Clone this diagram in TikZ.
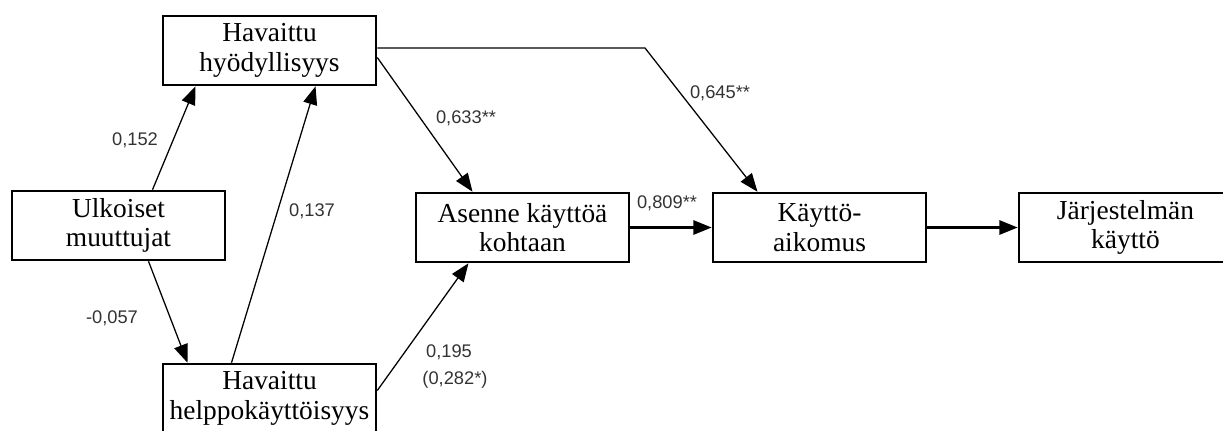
\documentclass[tikz,border=0pt]{standalone}
\usepackage{fontspec}
\setmainfont{Liberation Serif}
\newfontfamily\labelfont{Liberation Sans}
\usetikzlibrary{arrows.meta,calc}

\begin{document}
\begin{tikzpicture}[
  x=0.025cm, y=-0.025cm,
  every node/.style={font=\fontsize{19.5}{21}\selectfont},
  model box/.style={draw,line width=1.8pt,minimum width=5.325cm,minimum height=1.725cm,inner sep=0pt,align=center},
  path arrow/.style={draw,line width=0.9pt,-{Triangle[length=13pt,width=10pt]}},
  coef/.style={font=\labelfont\fontsize{13}{14}\selectfont,text=black!80,inner sep=0pt}
]
  \useasboundingbox (0,0) rectangle (1223,430);

  \node[model box] (hyod) at (269.5,50.5)  {Havaittu\\hyödyllisyys};
  \node[model box] (ulk)  at (118.5,225.5) {Ulkoiset\\muuttujat};
  \node[model box] (help) at (269.5,398.5) {Havaittu\\helppokäyttöisyys};
  \node[model box] (asen) at (522.5,227.5) {Asenne käyttöä\\kohtaan};
  \node[model box] (kayt) at (819.5,227.5) {Käyttö-\\aikomus};
  \node[model box] (jarj) at (1125.5,227.5) {Järjestelmän\\käyttö};

  \coordinate (bend) at (645,48);

  \draw[path arrow] ($(ulk.north)+(34,0)$) -- ($(hyod.south)+(-74,0)$);
  \draw[path arrow] ($(ulk.south)+(30,0)$) -- ($(help.north)+(-82,0)$);
  \draw[path arrow] ($(help.north)+(-38,0)$) -- ($(hyod.south)+(46,0)$);
  \draw[path arrow] ($(hyod.east)+(0,7)$) -- ($(asen.north)+(-50,0)$);
  \draw[path arrow] ($(hyod.east)+(0,-2.5)$) -- (bend) -- ($(kayt.north)+(-62,0)$);
  \draw[path arrow] ($(help.east)+(0,-8)$) -- ($(asen.south)+(-54,0)$);
  \draw[path arrow,line width=1.8pt] (asen.east) -- (kayt.west);
  \draw[path arrow,line width=1.8pt] (kayt.east) -- (jarj.west);

  \node[coef] (c152) at (135,140) {0,152};
  \node[coef] (c057) at (112,318) {-0,057};
  \node[coef] (c137) at (312,211) {0,137};
  \node[coef] (c633) at (466,118) {0,633**};
  \node[coef] (c645) at (720,93)  {0,645**};
  \node[coef] (c809) at (667,203) {0,809**};
  \node[coef] (c195) at (449,352) {0,195};
  \node[coef] (c282) at (455,380) {(0,282*)};
\end{tikzpicture}
\end{document}
